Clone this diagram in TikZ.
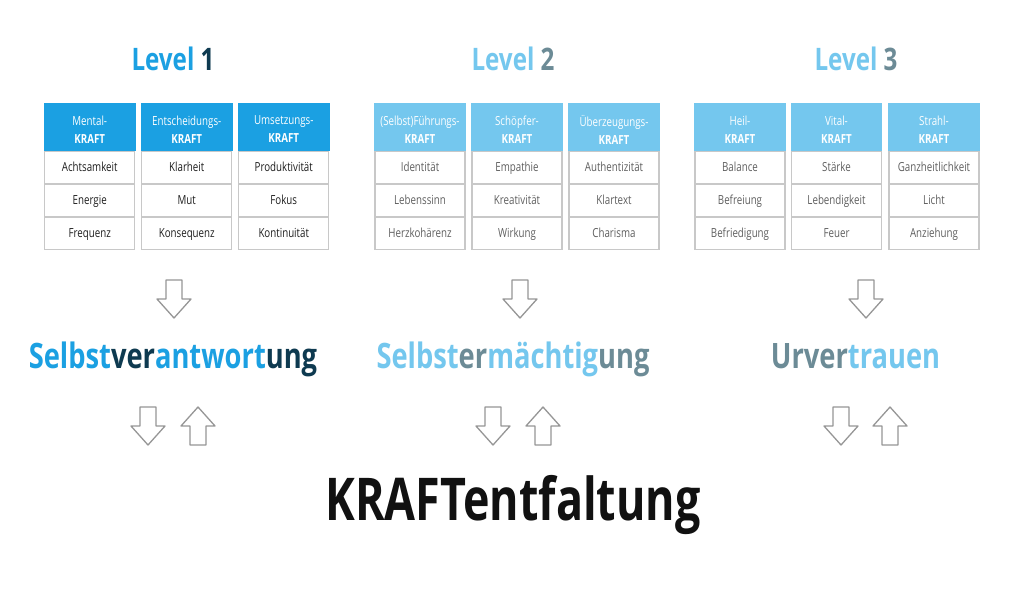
\documentclass[tikz,border=0pt]{standalone}
\usepackage{fontspec}
\setmainfont{Open Sans}[FakeStretch=0.78]
\newfontfamily\bigfont{Open Sans}[FakeStretch=0.76]
\definecolor{blueA}{RGB}{27,160,226}
\definecolor{navy}{RGB}{14,58,80}
\definecolor{lblue}{RGB}{116,199,238}
\definecolor{gteal}{RGB}{108,139,150}
\definecolor{cellborder}{RGB}{200,200,200}
\definecolor{arrowgray}{RGB}{150,150,150}
\definecolor{dtext}{RGB}{30,30,30}
\definecolor{gtext}{RGB}{95,95,95}
\definecolor{bigtext}{RGB}{17,17,17}
\tikzset{
  hdr/.style={rectangle, minimum width=91.5pt, minimum height=48pt, inner sep=0pt, draw=none},
  hdrtext/.style={align=center, text=white, font=\fontsize{12.5}{18}\selectfont, inner sep=0pt},
  cell/.style={rectangle, draw=cellborder, line width=1.4pt, minimum width=90pt, minimum height=31.5pt, inner sep=0pt, font=\fontsize{12.5}{15}\selectfont, text height=9.5pt, text depth=2.5pt},
  title/.style={font=\bfseries\fontsize{31}{31}\selectfont, anchor=base, inner sep=0pt},
  midtitle/.style={font=\bfseries\fontsize{35}{35}\selectfont, anchor=base, inner sep=0pt},
  arrowline/.style={draw=arrowgray, line width=1.3pt, line join=round, fill=white},
  darr/.pic={\path[arrowline] (-8,0) -- (8,0) -- (8,19) -- (17,19) -- (0,38) -- (-17,19) -- (-8,19) -- cycle;},
  uarr/.pic={\path[arrowline] (0,0) -- (17,19) -- (8,19) -- (8,38) -- (-8,38) -- (-8,19) -- (-17,19) -- cycle;}
}
\newcommand{\kcolumn}[8]{%
  \node[hdr, fill=#3] (#1h) at (#2,127) {};
  \node[hdrtext] (#1t) at (#2,129.5) {#4\\\textbf{KRAFT}};
  \node[cell, text=#5] (#1a) at (#2,167.5) {#6};
  \node[cell, text=#5] (#1b) at (#2,200.5) {#7};
  \node[cell, text=#5] (#1c) at (#2,233.5) {#8};
}
\begin{document}
\begin{tikzpicture}[x=1pt, y=-1pt]
\fill[white] (0,0) rectangle (1024,597);
\useasboundingbox (0,0) rectangle (1024,597);

% titles
\node[title] (l1) at (173,70.7) {\textcolor{blueA}{Level} \textcolor{navy}{1}};
\node[title] (l2) at (513,70.7) {\textcolor{lblue}{Level} \textcolor{gteal}{2}};
\node[title] (l3) at (856,70.7) {\textcolor{lblue}{Level} \textcolor{gteal}{3}};

% Level 1
\kcolumn{a1}{89.75}{blueA}{Mental-}{dtext}{Achtsamkeit}{Energie}{Frequenz}
\kcolumn{a2}{186.75}{blueA}{Entscheidungs-}{dtext}{Klarheit}{Mut}{Konsequenz}
\kcolumn{a3}{283.75}{blueA}{Umsetzungs-}{dtext}{Produktivität}{Fokus}{Kontinuität}
% Level 2
\kcolumn{b1}{420}{lblue}{(Selbst)Führungs-}{gtext}{Identität}{Lebenssinn}{Herzkohärenz}
\kcolumn{b2}{517}{lblue}{Schöpfer-}{gtext}{Empathie}{Kreativität}{Wirkung}
\kcolumn{b3}{614}{lblue}{Überzeugungs-}{gtext}{Authentizität}{Klartext}{Charisma}
% Level 3
\kcolumn{c1}{740}{lblue}{Heil-}{gtext}{Balance}{Befreiung}{Befriedigung}
\kcolumn{c2}{836.5}{lblue}{Vital-}{gtext}{Stärke}{Lebendigkeit}{Feuer}
\kcolumn{c3}{934}{lblue}{Strahl-}{gtext}{Ganzheitlichkeit}{Licht}{Anziehung}

% top arrows
\pic at (174,280) {darr};
\pic at (520,280) {darr};
\pic at (866,280) {darr};

% middle words
\node[midtitle] (m1) at (173,368) {\textcolor{blueA}{Selbst}\textcolor{navy}{ver}\textcolor{blueA}{antwort}\textcolor{navy}{ung}};
\node[midtitle] (m2) at (513,368) {\textcolor{lblue}{Selbst}\textcolor{gteal}{er}\textcolor{lblue}{mächtig}\textcolor{gteal}{ung}};
\node[midtitle] (m3) at (855.5,368) {\textcolor{gteal}{Urver}\textcolor{lblue}{trauen}};

% bottom arrows
\pic at (148,407) {darr};
\pic at (198,407) {uarr};
\pic at (493,407) {darr};
\pic at (543,407) {uarr};
\pic at (841,407) {darr};
\pic at (890,407) {uarr};

% final
\node[font=\bigfont\bfseries\fontsize{59}{59}\selectfont, anchor=base, inner sep=0pt, text=bigtext] (kf) at (513,520) {KRAFTentfaltung};
\end{tikzpicture}
\end{document}
